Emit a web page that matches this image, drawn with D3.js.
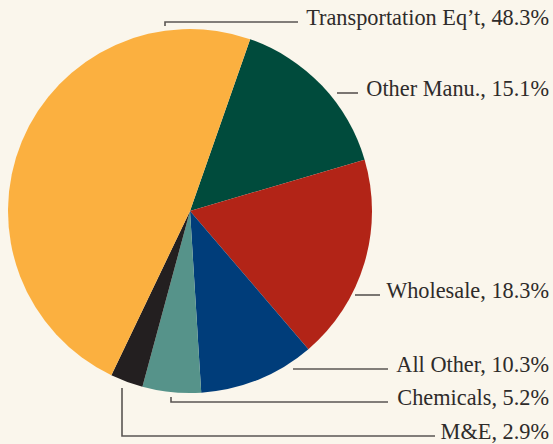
<!DOCTYPE html>
<html>
<head>
<meta charset="utf-8">
<script src="https://cdn.jsdelivr.net/npm/d3@7"></script>
<style>
  body { margin: 0; background: #faf6ec; }
  svg { display: block; }
</style>
</head>
<body>
<div id="chart"></div>
<script>
const categories = ["Other Manu.", "Wholesale", "All Other", "Chemicals", "M&E", "Transportation Eq\u2019t"];
const shares = [15.1, 18.3, 10.3, 5.2, 2.9, 48.3];
const colors = ["#004b3c", "#b22417", "#003d7a", "#56938a", "#231f20", "#fbb040"];

const w = 553,
      h = 444;

const cx = 190, cy = 211, radius = 182;

// leader lines: y of the horizontal rule, left end, optional tick end
const leaders = {
  "Transportation Eq\u2019t": {y: 22, x0: 165, x1: 298, tick: 26},
  "Other Manu.": {y: 93, x0: 337, x1: 358},
  "Wholesale": {y: 295, x0: 355, x1: 380},
  "All Other": {y: 369, x0: 293, x1: 388},
  "Chemicals": {y: 402, x0: 171, x1: 388, tick: 397},
  "M&E": {y: 436, x0: 122, x1: 435, tick: 388}
};

const vis = d3.select("#chart")
    .append("svg")
    .attr("width", w)
    .attr("height", h);

vis.append("rect")
    .attr("width", w)
    .attr("height", h)
    .attr("fill", "#faf6ec");

const data = categories.map(function(c, i) {
  return {name: c, value: shares[i], color: colors[i]};
});

const startA = 19.3 * Math.PI / 180;
const pie = d3.pie()
    .sort(null)
    .value(function(d) { return d.value; })
    .startAngle(startA)
    .endAngle(startA + 2 * Math.PI);

const arc = d3.arc()
    .innerRadius(0)
    .outerRadius(radius);

const g = vis.append("g")
    .attr("transform", "translate(" + cx + "," + cy + ")");

g.selectAll("path.slice")
    .data(pie(data))
    .enter()
    .append("path")
    .attr("class", "slice")
    .attr("d", arc)
    .attr("fill", function(d) { return d.data.color; });

const lab = vis.selectAll("g.label")
    .data(data)
    .enter()
    .append("g")
    .attr("class", "label");

lab.append("path")
    .attr("d", function(d) {
      const l = leaders[d.name];
      let p = "M" + l.x1 + "," + l.y + "H" + l.x0;
      if (l.tick !== undefined) p += "V" + l.tick;
      return p;
    })
    .attr("fill", "none")
    .attr("stroke", "#5a5653")
    .attr("stroke-width", 1.6);

lab.append("text")
    .attr("x", 549)
    .attr("y", function(d) { return leaders[d.name].y + 3; })
    .attr("text-anchor", "end")
    .attr("font-family", "Liberation Serif")
    .attr("font-size", "22.3px")
    .attr("fill", "#2e2b2a")
    .text(function(d) { return d.name + ", " + d3.format(".1f")(d.value) + "%"; });
</script>
</body>
</html>
